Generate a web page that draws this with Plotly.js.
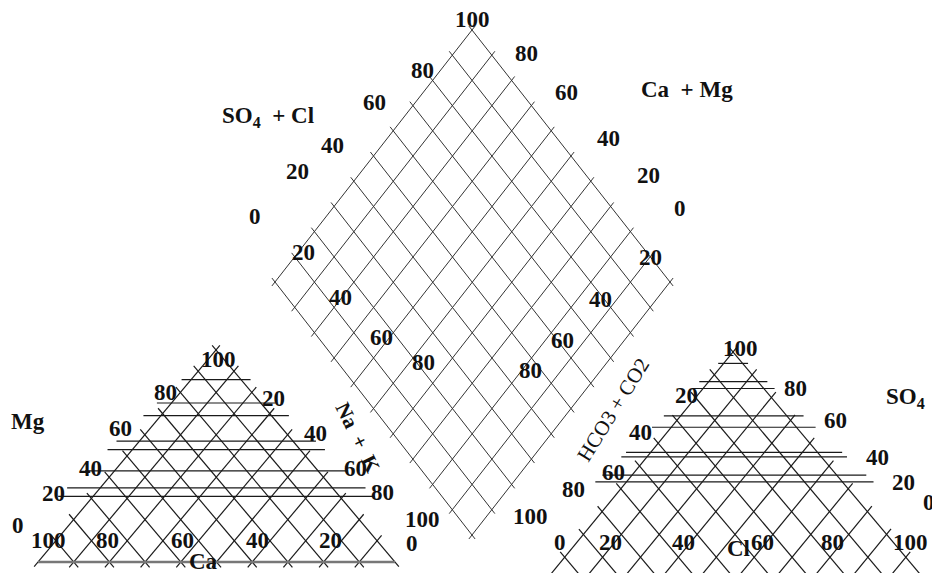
<!DOCTYPE html>
<html>
<head>
<meta charset="utf-8">
<script src="https://cdn.plot.ly/plotly-3.0.1.min.js"></script>
<style>
  html, body { margin: 0; padding: 0; background: #fff; }
  #chart { width: 932px; height: 573px; }
</style>
</head>
<body>
<div id="chart"></div>
<script>
// --- data: grid levels (percent) and tick labels ---
const diamondSteps = [0, 10, 20, 30, 40, 50, 60, 70, 80, 90, 100];
const cationMgLevels = [31, 35, 43, 53, 57, 69, 75, 86];      // horizontal lines, Mg triangle
const cationDiagSteps = [0, 10, 20, 30, 40, 50, 60, 70, 80, 90, 100];
const anionSO4Levels = [43, 46, 54, 56, 67, 72, 84, 87, 95];  // horizontal lines, SO4 triangle
const anionDiagSteps = [0, 10, 20, 30, 40, 50, 60, 70, 80, 90, 100];

const ticksUp = ['0', '20', '40', '60', '80', '100'];
const ticksDown = ['100', '80', '60', '40', '20', '0'];
const axisNames = ['SO<sub>4</sub>\u00a0 + Cl', 'Ca\u00a0 + Mg', 'Na\u00a0 +\u00a0 K', 'HCO3 + CO2', 'Mg', 'Ca', 'SO<sub>4</sub>', 'Cl'];

// --- geometry (pixel space of the picture) ---
const D = { T: [472, 30], R: [670, 282], B: [472, 535], L: [275, 282] };
const triL = { BL: [38, 562], BR: [395, 562], A: [216, 350] };
const triR = { BL: [546, 580], BR: [925, 580], A: [733, 352] };

function lerp(a, b, t) { return [a[0] + (b[0] - a[0]) * t, a[1] + (b[1] - a[1]) * t]; }

function seg(acc, p, q, ext) {
    const dx = q[0] - p[0], dy = q[1] - p[1], len = Math.hypot(dx, dy);
    const ux = dx / len * ext, uy = dy / len * ext;
    acc.x.push(p[0] - ux, q[0] + ux, null);
    acc.y.push(p[1] - uy, q[1] + uy, null);
}

// diamond grid
const diamond = { x: [], y: [] };
diamondSteps.forEach(v => {
    const s = v / 100;
    seg(diamond, lerp(D.T, D.L, s), lerp(D.R, D.B, s), 5);
    seg(diamond, lerp(D.T, D.R, s), lerp(D.L, D.B, s), 5);
});

// triangle grid
function triangle(t, hLevels, dSteps) {
    const acc = { x: [], y: [] };
    hLevels.forEach(v => {
        const s = v / 100;
        const p = lerp(t.BL, t.A, s), q = lerp(t.BR, t.A, s);
        const w = q[0] - p[0];
        seg(acc, p, q, 0.13 * w + 3);
    });
    dSteps.forEach(v => {
        const s = v / 100;
        if (s === 0 || s === 1) return;
        const p1 = lerp(t.BL, t.BR, s);
        seg(acc, p1, [p1[0] + (t.A[0] - t.BL[0]) * (1 - s), p1[1] + (t.A[1] - t.BL[1]) * (1 - s)], 7);
        const p2 = lerp(t.BR, t.BL, s);
        seg(acc, p2, [p2[0] + (t.A[0] - t.BR[0]) * (1 - s), p2[1] + (t.A[1] - t.BR[1]) * (1 - s)], 7);
    });
    seg(acc, t.BL, t.A, 6);
    seg(acc, t.BR, t.A, 6);
    return acc;
}
const cat = triangle(triL, cationMgLevels, cationDiagSteps);
const ani = triangle(triR, anionSO4Levels, anionDiagSteps);

const traces = [
    { x: diamond.x, y: diamond.y, mode: 'lines', type: 'scatter', line: { color: '#333', width: 1 }, hoverinfo: 'skip' },
    { x: cat.x, y: cat.y, mode: 'lines', type: 'scatter', line: { color: '#1a1a1a', width: 1.2 }, hoverinfo: 'skip' },
    { x: ani.x, y: ani.y, mode: 'lines', type: 'scatter', line: { color: '#1a1a1a', width: 1.2 }, hoverinfo: 'skip' },
    { x: [triL.BL[0], triL.BR[0]], y: [triL.BL[1], triL.BR[1]], mode: 'lines', type: 'scatter', line: { color: '#777', width: 2.5 }, hoverinfo: 'skip' }
];

// --- label placement ---
const annotations = [];
function lab(text, x, y, opts) {
    annotations.push(Object.assign({
        text: text, x: x, y: y, xref: 'x', yref: 'y', showarrow: false,
        xanchor: 'center', yanchor: 'middle',
        font: { family: 'Liberation Serif, Times New Roman, serif', size: 23, color: '#111', weight: 'bold' }
    }, opts || {}));
}
function scale(labels, pos) { labels.forEach((t, i) => { if (pos[i]) lab(t, pos[i][0], pos[i][1]); }); }

// diamond scales
scale(ticksUp, [[255, 216], [297, 171], [332, 145], [374, 102], [422, 70], [472, 19]]);
scale(ticksUp.slice(0, 5), [[680, 208], [648, 175], [608, 138], [566, 92], [526, 53]]);
scale(ticksUp.slice(1), [[303, 252], [340, 297], [381, 337], [423, 362], [422, 519]]);
scale(ticksUp.slice(1), [[650, 257], [600, 299], [562, 340], [530, 370], [530, 516]]);
lab(axisNames[0], 268, 117);
lab(axisNames[1], 687, 89);
lab(axisNames[2], 358, 438, { textangle: 64, font: { family: 'Liberation Serif, serif', size: 21, color: '#111', weight: 'bold' } });
lab(axisNames[3], 613, 410, { textangle: -58, font: { family: 'Liberation Serif, serif', size: 21, color: '#111' } });

// cation triangle
scale(ticksUp, [[18, 525], [53, 493], [90, 468], [120, 428], [165, 392], [218, 359]]);
scale(ticksUp.slice(1, 5), [[273, 398], [315, 433], [355, 468], [382, 492]]);
scale(ticksDown, [[48, 540], [107, 540], [182, 540], [257, 540], [330, 540], [412, 543]]);
lab(axisNames[4], 28, 421);
lab(axisNames[5], 203, 561);

// anion triangle
scale(ticksUp.slice(1, 5), [[686, 395], [640, 432], [613, 472], [573, 489]]);
scale(ticksUp, [[929, 502], [903, 482], [877, 457], [835, 420], [795, 388], [740, 348]]);
scale(ticksUp, [[560, 542], [610, 542], [683, 542], [762, 542], [832, 542], [910, 542]]);
lab(axisNames[6], 905, 398);
lab(axisNames[7], 738, 548);

const layout = {
    width: 932, height: 573,
    margin: { l: 0, r: 0, t: 0, b: 0 },
    paper_bgcolor: '#fff', plot_bgcolor: '#fff',
    showlegend: false,
    xaxis: { range: [0, 932], visible: false, fixedrange: true },
    yaxis: { range: [573, 0], visible: false, fixedrange: true },
    annotations: annotations
};

Plotly.newPlot('chart', traces, layout, { staticPlot: true });
</script>
</body>
</html>
